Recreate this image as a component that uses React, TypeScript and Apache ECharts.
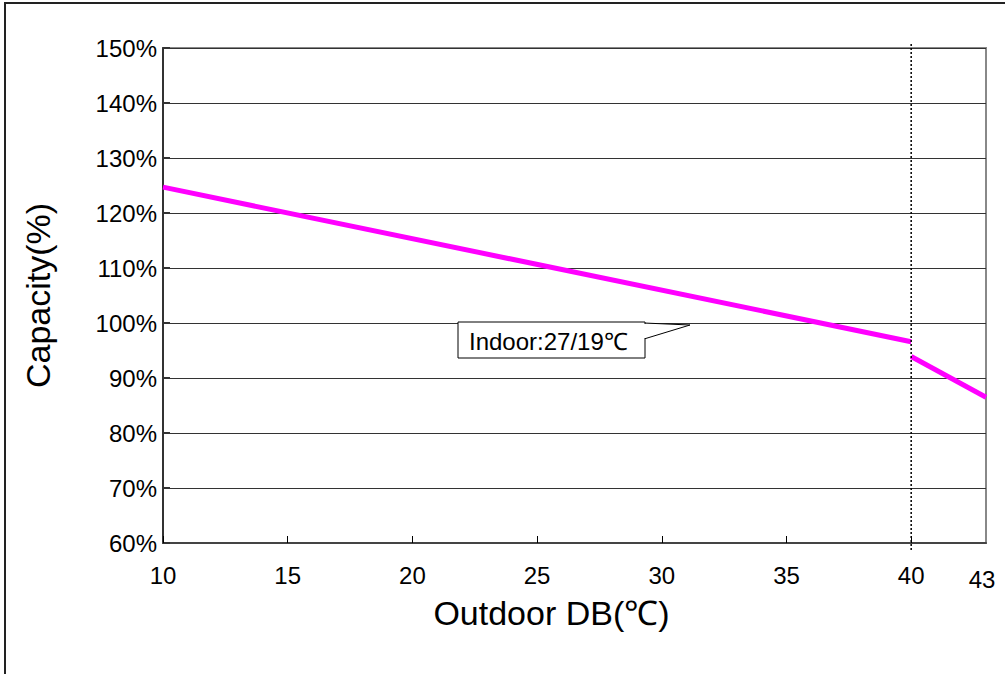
import React, { useEffect, useRef } from "react";
import * as echarts from "echarts";

const xTicks = [10, 15, 20, 25, 30, 35, 40, 43];
const yMin = 60;
const yMax = 150;
const yStep = 10;
const xMin = 10;
const xMax = 43;
const seriesLow: [number, number][] = [
  [10, 124.7],
  [40, 96.6],
];
const seriesHigh: [number, number][] = [
  [40, 93.9],
  [43, 86.5],
];
const limitX = 40;
const noteText = "Indoor:27/19℃";
const xName = "Outdoor DB(℃)";
const yName = "Capacity(%)";

const FONT = "'Liberation Sans', Arial, sans-serif";

export default function App() {
  const ref = useRef<HTMLDivElement>(null);
  useEffect(() => {
    if (!ref.current) return;
    const chart = echarts.init(ref.current, null, { renderer: "svg" });
    const option: any = {
      animation: false,
      backgroundColor: "#fff",
      textStyle: { fontFamily: FONT },
      grid: { left: 163, right: 19, top: 48, bottom: 131, containLabel: false, show: true, borderColor: "#888", borderWidth: 2, backgroundColor: "transparent" },
      xAxis: {
        type: "value",
        min: xMin,
        max: xMax,
        interval: 5,
        name: xName,
        nameLocation: "middle",
        nameGap: 36,
        nameTextStyle: { fontSize: 34, color: "#000", fontFamily: FONT, padding: [0, 46, 0, 0] },
        axisLine: { show: true, lineStyle: { color: "#444", width: 2 } },
        axisTick: { show: true, inside: true, length: 7, lineStyle: { color: "#000", width: 1 }, customValues: xTicks.slice(0, -1) },
        axisLabel: {
          customValues: xTicks,
          color: "#000",
          fontSize: 24,
          fontFamily: FONT,
          margin: 20,
          formatter: (v: number) => (v === 43 ? "{b|" + v + "}" : "{a|" + v + "}"),
          rich: {
            a: { fontSize: 24, fontFamily: FONT, color: "#000" },
            b: { fontSize: 24, fontFamily: FONT, color: "#000", padding: [4, 8, 0, 0] },
          },
        },
        splitLine: { show: false },
      },
      yAxis: {
        type: "value",
        min: yMin,
        max: yMax,
        interval: yStep,
        name: yName,
        nameLocation: "middle",
        nameGap: 108,
        nameTextStyle: { fontSize: 34, color: "#000", fontFamily: FONT },
        axisLine: { show: true, lineStyle: { color: "#333", width: 2 } },
        axisTick: { show: true, inside: true, length: 7, lineStyle: { color: "#333", width: 2 } },
        axisLabel: { color: "#000", fontSize: 24, fontFamily: FONT, margin: 6, formatter: "{value}%" },
        splitLine: { show: true, lineStyle: { color: "#333", width: 1 } },
      },
      series: [
        {
          type: "line",
          data: seriesLow,
          symbol: "none",
          lineStyle: { color: "#ff00ff", width: 5 },
          z: 5,
        },
        {
          type: "line",
          data: seriesHigh,
          symbol: "none",
          lineStyle: { color: "#ff00ff", width: 5 },
          z: 5,
        },
      ],
    };
    chart.setOption(option);

    const top = chart.convertToPixel({ gridIndex: 0 }, [limitX, yMax]) as number[];
    const bot = chart.convertToPixel({ gridIndex: 0 }, [limitX, yMin]) as number[];
    chart.setOption({
      graphic: [
        {
          type: "rect",
          shape: { x: 5, y: 3, width: 1100, height: 800 },
          style: { fill: "none", stroke: "#222", lineWidth: 2 },
          silent: true,
          z: 0,
        },
        {
          type: "line",
          shape: { x1: top[0], y1: top[1] - 4, x2: bot[0], y2: bot[1] + 9 },
          style: { stroke: "#000", lineWidth: 1.5, lineDash: [2, 2] },
          z: 10,
        },
        {
          type: "polygon",
          shape: { points: [[644, 323], [690, 325], [644, 339]] },
          style: { fill: "#fff", stroke: "#000", lineWidth: 1 },
          z: 20,
        },
        {
          type: "rect",
          shape: { x: 458, y: 322, width: 187, height: 36 },
          style: { fill: "#fff", stroke: "#000", lineWidth: 1 },
          z: 21,
        },
        {
          type: "rect",
          shape: { x: 643, y: 324, width: 3, height: 14 },
          style: { fill: "#fff", stroke: "none" },
          z: 22,
        },
        {
          type: "text",
          x: 469,
          y: 341,
          style: { text: noteText, fontSize: 24, fontFamily: FONT, fill: "#000", textVerticalAlign: "middle", verticalAlign: "middle" },
          z: 23,
        },
      ],
    });
    return () => chart.dispose();
  }, []);
  return <div ref={ref} style={{ position: "fixed", left: 0, top: 0, width: 1005, height: 674 }} />;
}
